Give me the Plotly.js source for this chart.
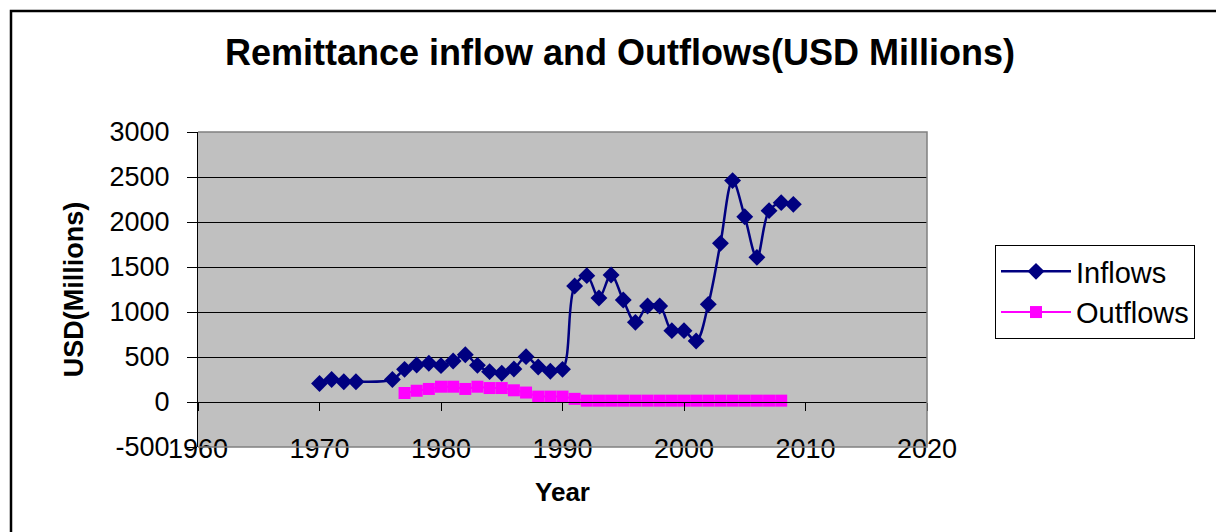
<!DOCTYPE html>
<html>
<head>
<meta charset="utf-8">
<script src="https://cdn.plot.ly/plotly-3.0.1.min.js"></script>
<style>
  html,body{margin:0;padding:0;background:#fff}
  #chart{width:1216px;height:532px}
</style>
</head>
<body>
<div id="chart"></div>
<script>
"use strict"

// values
const inflowYears = [1970,1971,1972,1973,1976,1977,1978,1979,1980,1981,1982,1983,1984,1985,1986,1987,1988,1989,1990,
  1991,1992,1993,1994,1995,1996,1997,1998,1999,2000,2001,2002,2003,2004,2005,2006,2007,2008,2009]
const inflows = [205,250,225,225,250,363,411,430,404,456,525,407,337,319,367,504,389,341,363,
  1289,1404,1155,1411,1133,885,1067,1067,793,793,678,1085,1763,2460,2059,1607,2126,2215,2196]

const outflowYears = [1977,1978,1979,1980,1981,1982,1983,1984,1985,1986,1987,1988,1989,1990,1991,
  1992,1993,1994,1995,1996,1997,1998,1999,2000,2001,2002,2003,2004,2005,2006,2007,2008]
const outflows = [100,125,145,170,170,145,170,155,155,130,105,60,60,60,35,
  15,15,15,15,15,15,15,15,15,15,15,15,15,15,15,15,15]

const xTicks = [1960,1970,1980,1990,2000,2010,2020]
const yTicks = [-500,0,500,1000,1500,2000,2500,3000]

const FONT = "Arial, 'Liberation Sans', sans-serif"

const trace1 = {
  x: inflowYears,
  y: inflows,
  name: 'Inflows',
  mode: 'lines+markers',
  type: 'scatter',
  line: {color:'#000080', width:2.5, shape:'spline', smoothing:1},
  marker: {symbol:'diamond', size:13, color:'#000080'},
}
const trace2 = {
  x: outflowYears,
  y: outflows,
  name: 'Outflows',
  xaxis: 'x2',
  mode: 'lines+markers',
  type: 'scatter',
  line: {color:'#FF00FF', width:2},
  marker: {symbol:'square', size:12, color:'#FF00FF'},
}

const L = 198, R = 927, T = 132, B = 447
const W = 1216, H = 532
const pw = R-L, ph = B-T

const layout = {
  width: W,
  height: H,
  paper_bgcolor: '#ffffff',
  plot_bgcolor: '#C0C0C0',
  margin: {l:L, r:W-R, t:T, b:H-B, pad:0},
  font: {family:FONT, color:'#000', size:27},
  title: {
    text: 'Remittance inflow and Outflows(USD Millions)',
    font: {family:FONT, size:36, weight:'bold', color:'#000'},
    xref: 'container', yref: 'container',
    x: 620/W, y: 1-52/H, xanchor:'center', yanchor:'middle',
  },
  showlegend: true,
  legend: {
    x: (995-L)/pw, y: (B-245)/ph, xanchor:'left', yanchor:'top',
    bgcolor:'#ffffff', bordercolor:'#000', borderwidth:1,
    font: {family:FONT, size:29, color:'#000'},
    itemwidth: 70,
    tracegroupgap: 0,
  },
  xaxis: {
    range: [1960,2020],
    tickvals: xTicks,
    ticktext: xTicks.map(String),
    anchor: 'free',
    position: 0.055,
    showline: false,
    showgrid: false,
    zeroline: false,
    ticks: '',
    tickfont: {family:FONT, size:27, color:'#000'},
    title: {text:'Year', font:{family:FONT, size:26, weight:'bold', color:'#000'}, standoff:20},
    automargin: false,
  },
  xaxis2: {
    range: [1960,2020],
    overlaying: 'x',
    anchor: 'free',
    position: 500/3500,
    tickvals: xTicks,
    showticklabels: false,
    showline: true,
    linecolor: '#000',
    linewidth: 1,
    ticks: 'outside',
    ticklen: 8,
    tickcolor: '#000',
    showgrid: false,
    zeroline: false,
  },
  yaxis: {
    range: [-500,3000],
    tickvals: yTicks,
    ticktext: yTicks.map(String),
    showgrid: true,
    gridcolor: '#000',
    gridwidth: 1,
    zeroline: false,
    showline: true,
    linecolor: '#000',
    linewidth: 1,
    ticks: 'outside',
    ticklen: 10,
    tickcolor: '#000',
    ticklabelstandoff: 12,
    tickfont: {family:FONT, size:27, color:'#000'},
    title: {text:'USD(Millions)', font:{family:FONT, size:27, weight:'bold', color:'#000'}, standoff:18},
    automargin: false,
  },
  shapes: [
    // plot frame (grey top/right/bottom edges)
    {type:'path', xref:'paper', yref:'paper', path:'M0,1 L1,1 L1,0 L0,0',
      line:{color:'#808080', width:1.5}, layer:'above'},
    // outer chart border
    {type:'rect', xref:'paper', yref:'paper',
      x0:(11-L)/pw, x1:(W+10-L)/pw, y0:-(H+10-B)/ph, y1:(B-11)/ph,
      line:{color:'#000', width:2.5}, fillcolor:'rgba(0,0,0,0)', layer:'above'},
  ],
}

Plotly.newPlot('chart', [trace1, trace2], layout, {displayModeBar:false, staticPlot:true})
</script>
</body>
</html>
